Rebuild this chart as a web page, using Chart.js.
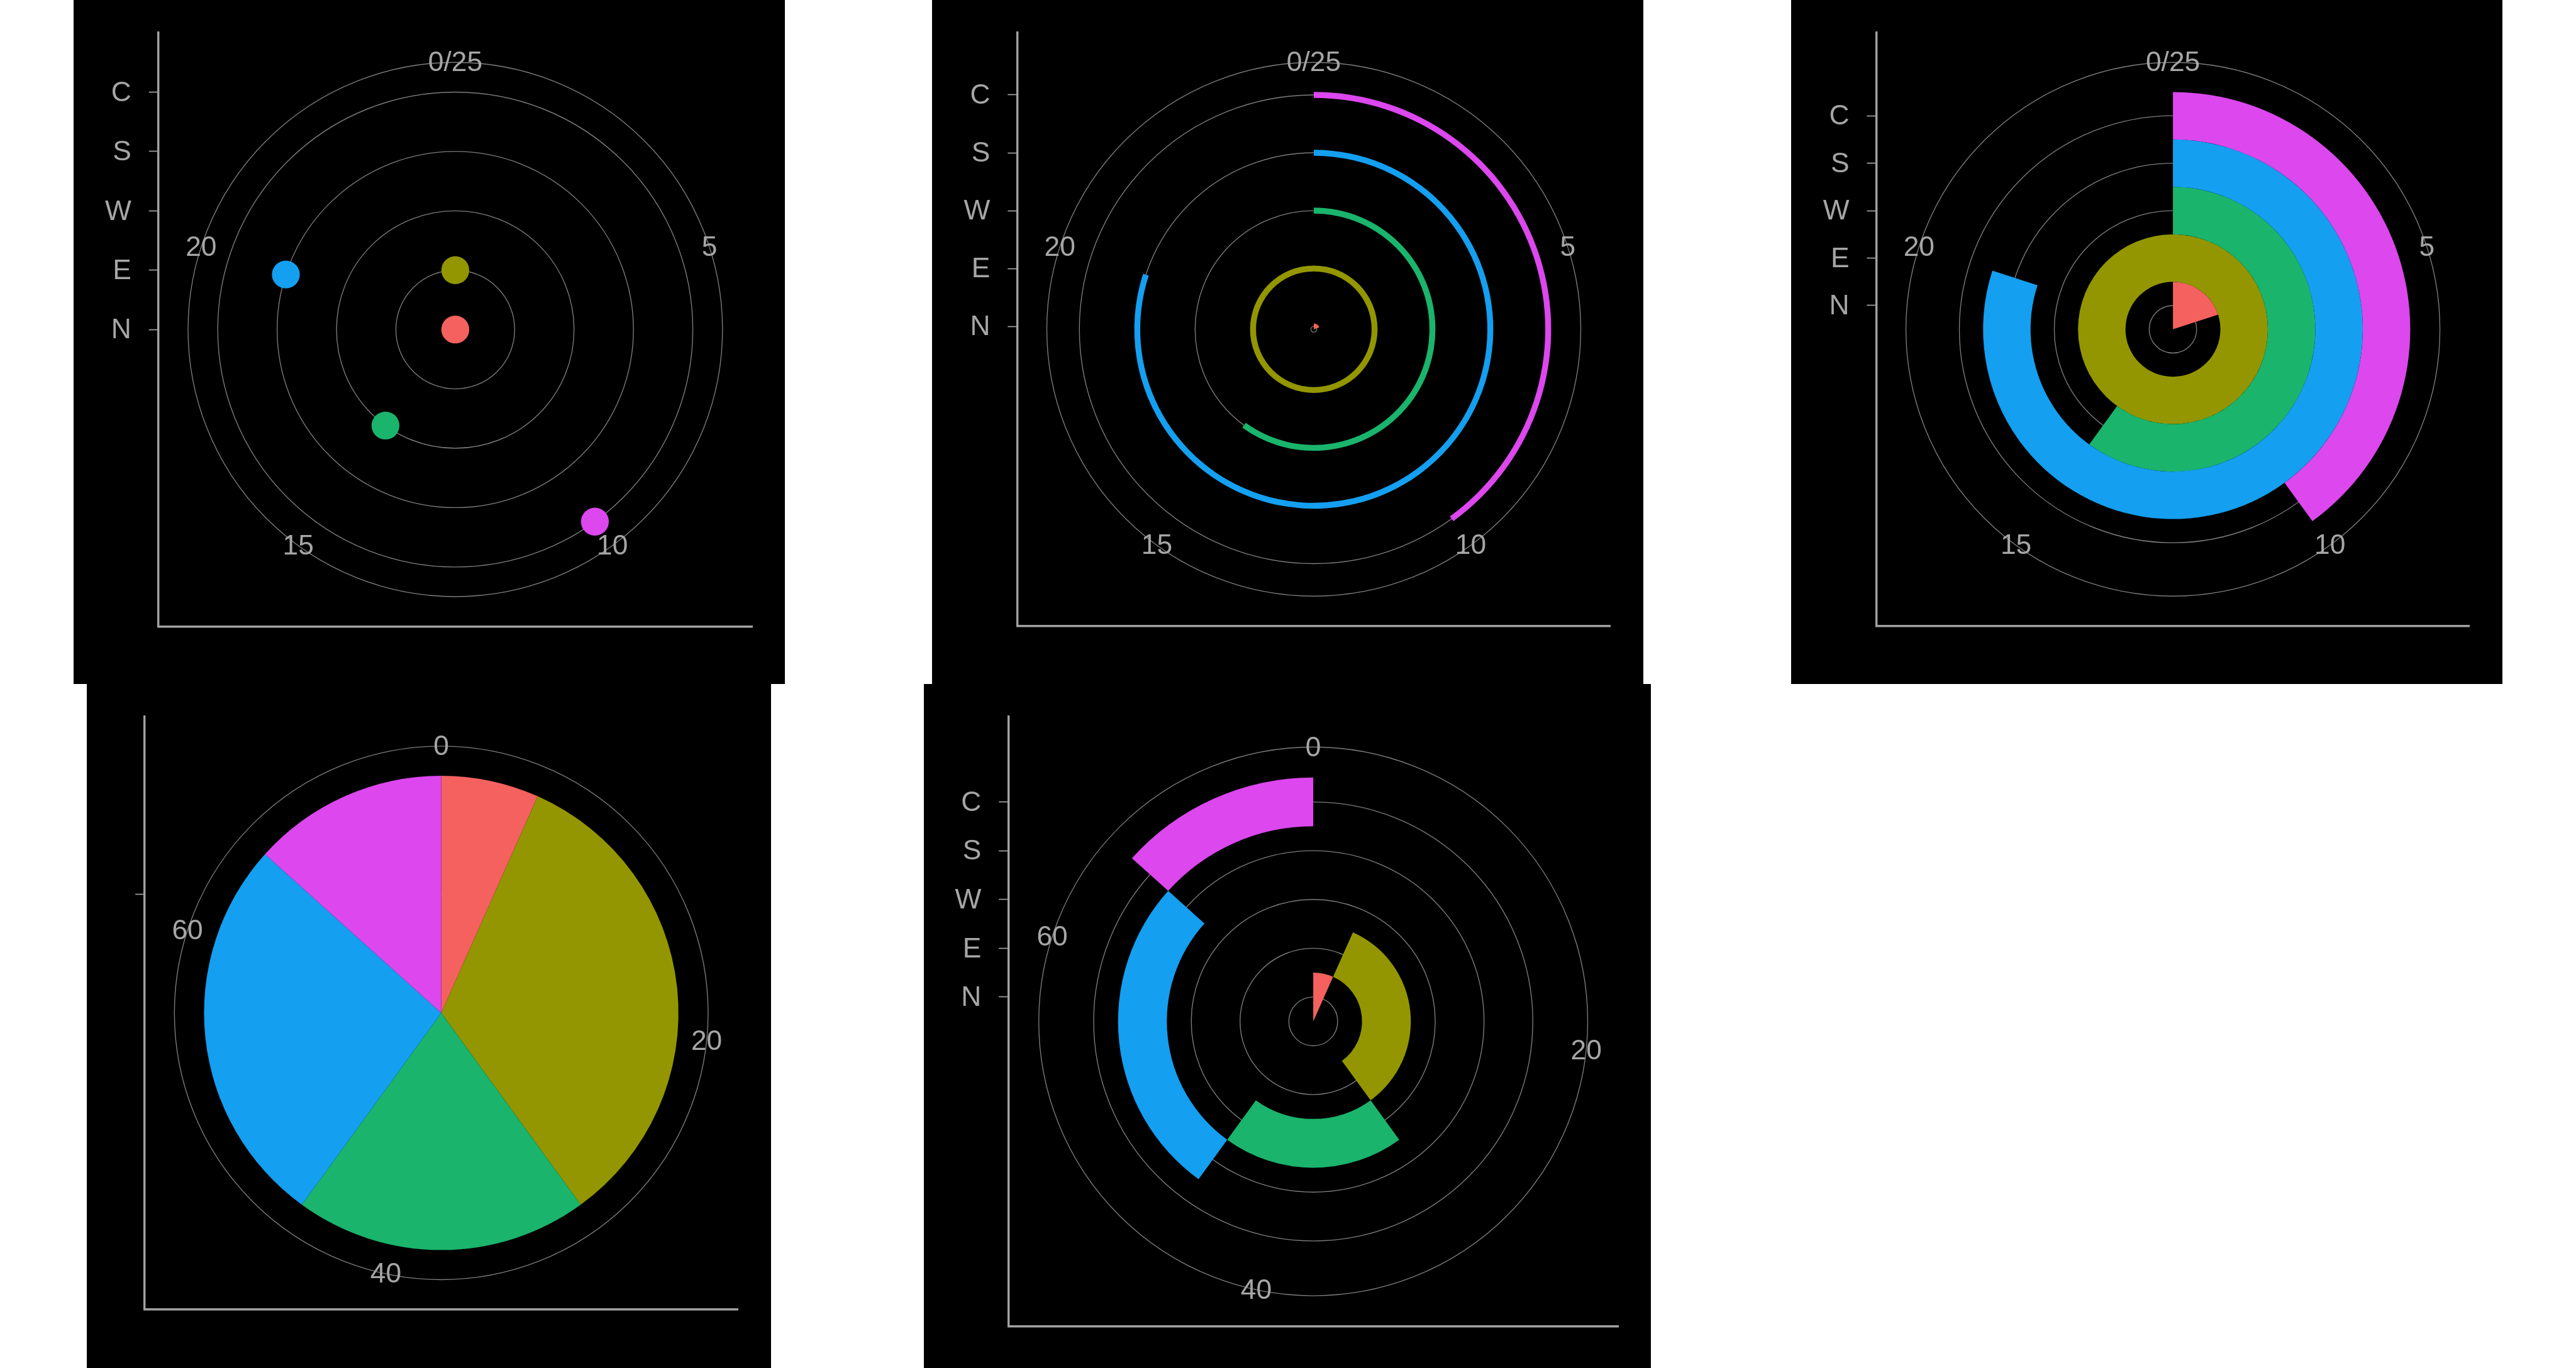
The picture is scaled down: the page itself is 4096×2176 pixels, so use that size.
<!DOCTYPE html>
<html><head><meta charset="utf-8">
<script src="https://cdn.jsdelivr.net/npm/chart.js@4.4.1/dist/chart.umd.min.js"></script>
<style>
html,body{margin:0;padding:0;background:#fff;width:4096px;height:2176px;overflow:hidden;}
.panel{position:absolute;background:#000;overflow:hidden;}
.panel canvas{position:absolute;left:0;top:0;}
</style></head><body>
<script>
// ---------------- data ----------------
const categories = ['N','E','W','S','C'];
const values = [5, 25, 15, 20, 10];
const thetaTicks = [0, 5, 10, 15, 20];
const thetaTickLabels = ['0/25', '5', '10', '15', '20'];
const thetaMax = 25;
const pieTicks = [0, 20, 40, 60];
const pieTickLabels = ['0', '20', '40', '60'];
const pieCategories = [''];
// ---------------- styles ----------------
const colors = ['#F4615E', '#939600', '#1AB46C', '#149FF0', '#DC47EE'];
const S = 4096 / 4800;
const FONT = '"Liberation Sans", Arial, Helvetica, sans-serif';
const FS = 52 * S;
const TXT = '#A6A6A6', AX = '#A3A3A3', GRID = '#7C7C7C';
const TRANSP = 'rgba(0,0,0,0)';
const LBL_DY = 2;
const pieTotal = values.reduce((a, b) => a + b, 0);
const catIdx = categories.map((_, i) => i);

const panels = [
  {kind:'point', bg:[137.3,0,1325,1275], frame:[295.3,61,1106.5], r0:0, r1:4, rTicks:catIdx, rLabels:categories, tTicks:thetaTicks, tLabels:thetaTickLabels, tMax:thetaMax},
  {kind:'arc', bg:[1737,0,1325,1275], frame:[1895.6,61,1105.5], r0:-0.05, r1:4.05, rTicks:catIdx, rLabels:categories, tTicks:thetaTicks, tLabels:thetaTickLabels, tMax:thetaMax},
  {kind:'ring', bg:[3337,0,1325,1275], frame:[3495.7,61,1105.5], r0:-0.5, r1:4.5, rTicks:catIdx, rLabels:categories, tTicks:thetaTicks, tLabels:thetaTickLabels, tMax:thetaMax},
  {kind:'pie', bg:[162,1275,1275,1275], frame:[270,1335.6,1105], r0:-0.5, r1:0.5, rTicks:[0], rLabels:pieCategories, tTicks:pieTicks, tLabels:pieTickLabels, tMax:pieTotal},
  {kind:'stack', bg:[1722,1275,1355,1275], frame:[1879.3,1335.7,1136.5], r0:-0.5, r1:4.5, rTicks:catIdx, rLabels:categories, tTicks:pieTicks, tLabels:pieTickLabels, tMax:pieTotal}
];

function geom(chart, p) {
  const {x, y} = chart.scales;
  const cx = x.getPixelForValue(0), cy = y.getPixelForValue(p.r0);
  const u = cy - y.getPixelForValue(p.r0 + 1);
  return {cx, cy, u};
}

function gridPlugin(p) {
  return {
    id: 'polarGrid',
    beforeDatasetsDraw(chart) {
      const ctx = chart.ctx;
      const {cx, cy, u} = geom(chart, p);
      ctx.save();
      ctx.strokeStyle = GRID;
      ctx.lineWidth = 1.6 * S;
      const radii = p.rTicks.map(t => (t - p.r0) * u).filter(r => r > 0.5);
      const R45 = 1.125 * (p.r1 - p.r0) * u;
      radii.push(R45);
      for (const r of radii) {
        ctx.beginPath();
        ctx.arc(cx, cy, r, 0, Math.PI * 2);
        ctx.stroke();
      }
      ctx.fillStyle = TXT;
      ctx.font = FS + 'px ' + FONT;
      ctx.textAlign = 'center';
      ctx.textBaseline = 'middle';
      p.tTicks.forEach((t, i) => {
        const a = t / p.tMax * Math.PI * 2;
        ctx.fillText(p.tLabels[i], cx + R45 * Math.sin(a), cy - R45 * Math.cos(a) + LBL_DY);
      });
      ctx.restore();
    }
  };
}

panels.forEach((p, pi) => {
  const [bx, by, bw, bh] = p.bg;
  const [fl, ft, fs] = p.frame;
  const W = Math.round(bw * S), H = Math.round(bh * S);
  const div = document.createElement('div');
  div.className = 'panel';
  div.style.left = Math.round(bx * S) + 'px';
  div.style.top = Math.round(by * S) + 'px';
  div.style.width = W + 'px';
  div.style.height = H + 'px';
  document.body.appendChild(div);
  const c1 = document.createElement('canvas');
  c1.width = W; c1.height = H;
  c1.style.width = W + 'px'; c1.style.height = H + 'px';
  div.appendChild(c1);

  const padTop = (ft - by) * S;
  const yW = (fl - bx) * S;
  const padRight = W - (fl + fs - bx) * S;
  const xH = H - (ft + fs - by) * S;
  const half = 1.25 * (p.r1 - p.r0);

  let datasets = [];
  if (p.kind === 'point') {
    datasets = values.map((v, i) => {
      const a = v / p.tMax * Math.PI * 2;
      const rr = i - p.r0;
      return {
        label: categories[i],
        data: [{x: rr * Math.sin(a), y: p.r0 + rr * Math.cos(a)}],
        backgroundColor: colors[i],
        pointRadius: 26 * S,
        pointBorderWidth: 0,
        clip: false
      };
    });
  }

  const base = new Chart(c1, {
    type: 'scatter',
    data: {datasets},
    plugins: [gridPlugin(p)],
    options: {
      responsive: false,
      animation: false,
      events: [],
      layout: {padding: {top: padTop, right: padRight, left: 0, bottom: 0}},
      plugins: {legend: {display: false}, tooltip: {enabled: false}},
      scales: {
        x: {
          type: 'linear', min: -half, max: half, position: 'bottom',
          grid: {display: false},
          ticks: {display: false},
          border: {display: true, color: AX, width: 4 * S},
          afterFit: s => { s.height = xH; s.paddingLeft = 0; s.paddingRight = 0; }
        },
        y: {
          type: 'linear', min: p.r0 - half, max: p.r0 + half, position: 'left',
          afterBuildTicks: s => { s.ticks = p.rTicks.map(v => ({value: v})); },
          ticks: {
            autoSkip: false,
            callback: (v, i) => p.rLabels[i],
            color: TXT,
            font: {family: FONT, size: FS},
            padding: 32.7 * S,
            labelOffset: LBL_DY
          },
          grid: {display: true, drawOnChartArea: false, drawTicks: true, tickLength: 17.6 * S, tickWidth: 2 * S, tickColor: AX, color: AX},
          border: {display: true, color: AX, width: 4 * S},
          afterFit: s => { s.width = yW; s.paddingTop = 0; s.paddingBottom = 0; }
        }
      }
    }
  });

  if (p.kind === 'point') return;

  const {cx, cy, u} = geom(base, p);
  let Rout, arcSets = [];
  if (p.kind === 'arc') {
    const lw = 11 * S;
    Rout = (4 - p.r0) * u + lw / 2;
    for (let i = categories.length - 1; i >= 1; i--) {
      arcSets.push({data: [values[i], p.tMax - values[i]], backgroundColor: [colors[i], TRANSP], weight: lw});
      arcSets.push({data: [1], backgroundColor: [TRANSP], weight: u - lw});
    }
    arcSets.push({data: [values[0], p.tMax - values[0]], backgroundColor: [colors[0], TRANSP], weight: (0 - p.r0) * u + lw / 2});
  } else if (p.kind === 'ring') {
    Rout = (p.r1 - p.r0) * u;
    for (let i = categories.length - 1; i >= 0; i--) {
      arcSets.push({data: [values[i], p.tMax - values[i]], backgroundColor: [colors[i], TRANSP], weight: 1});
    }
  } else if (p.kind === 'pie') {
    Rout = (p.r1 - p.r0) * u;
    arcSets.push({data: values.slice(), backgroundColor: colors.slice(), weight: 1});
  } else if (p.kind === 'stack') {
    Rout = (p.r1 - p.r0) * u;
    for (let i = categories.length - 1; i >= 0; i--) {
      arcSets.push({data: values.slice(), backgroundColor: values.map((_, j) => j === i ? colors[i] : TRANSP), weight: 1});
    }
  }
  arcSets.forEach(d => { d.borderWidth = 0; d.hoverOffset = 0; });

  const c2 = document.createElement('canvas');
  c2.width = W; c2.height = H;
  c2.style.width = W + 'px'; c2.style.height = H + 'px';
  div.appendChild(c2);
  new Chart(c2, {
    type: 'doughnut',
    data: {labels: categories, datasets: arcSets},
    options: {
      responsive: false,
      animation: false,
      events: [],
      cutout: 0,
      rotation: 0,
      circumference: 360,
      layout: {padding: {left: cx - Rout, top: cy - Rout, right: W - (cx + Rout), bottom: H - (cy + Rout)}},
      plugins: {legend: {display: false}, tooltip: {enabled: false}},
      elements: {arc: {borderWidth: 0}}
    }
  });
});
</script>
</body></html>
